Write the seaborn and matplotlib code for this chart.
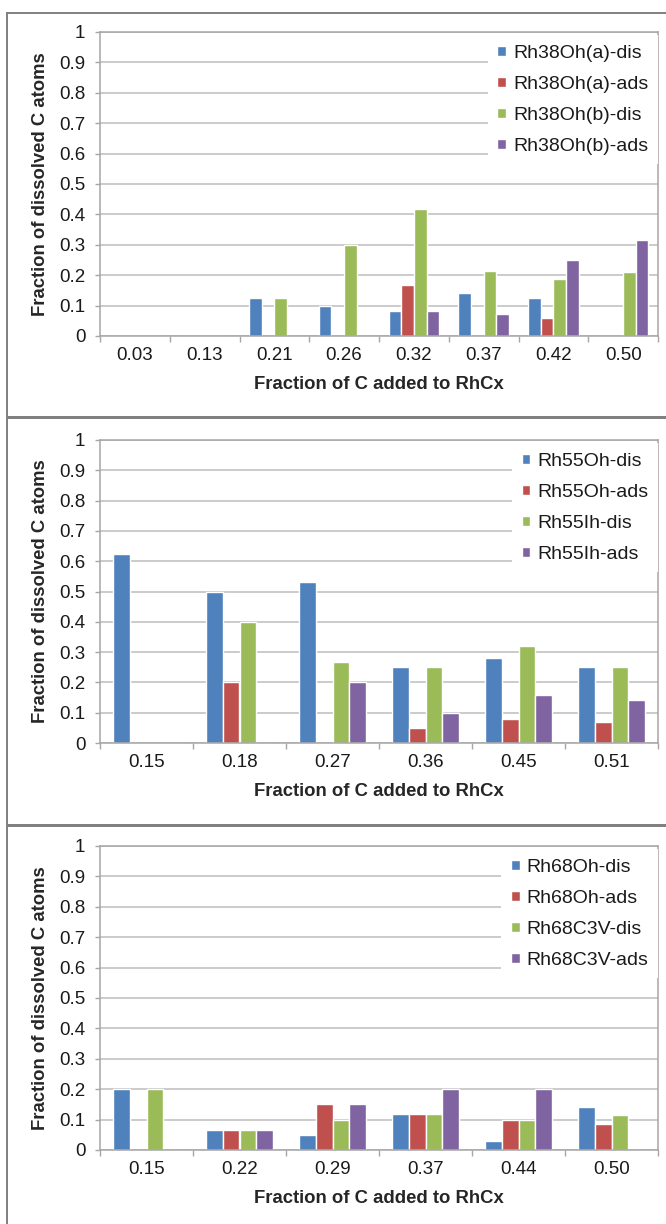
import pandas as pd
import seaborn as sns
import matplotlib.pyplot as plt
from matplotlib.patches import Rectangle

# Excel-like series colours
series_colors = ["#4F81BD", "#C0504D", "#9BBB59", "#8064A2"]
y_ticks = [0, 0.1, 0.2, 0.3, 0.4, 0.5, 0.6, 0.7, 0.8, 0.9, 1.0]
y_tick_labels = ["0", "0.1", "0.2", "0.3", "0.4", "0.5", "0.6", "0.7", "0.8", "0.9", "1"]
x_title = "Fraction of C added to RhCx"
y_title = "Fraction of dissolved C atoms"

# Panel 1: Rh38
rh38_x = ["0.03", "0.13", "0.21", "0.26", "0.32", "0.37", "0.42", "0.50"]
rh38_names = ["Rh38Oh(a)-dis", "Rh38Oh(a)-ads", "Rh38Oh(b)-dis", "Rh38Oh(b)-ads"]
rh38_a_dis = [0, 0, 0.125, 0.100, 0.083, 0.143, 0.125, 0]
rh38_a_ads = [0, 0, 0, 0, 0.167, 0, 0.060, 0]
rh38_b_dis = [0, 0, 0.125, 0.300, 0.417, 0.214, 0.188, 0.210]
rh38_b_ads = [0, 0, 0, 0, 0.083, 0.071, 0.250, 0.316]

# Panel 2: Rh55
rh55_x = ["0.15", "0.18", "0.27", "0.36", "0.45", "0.51"]
rh55_names = ["Rh55Oh-dis", "Rh55Oh-ads", "Rh55Ih-dis", "Rh55Ih-ads"]
rh55_oh_dis = [0.625, 0.500, 0.533, 0.250, 0.280, 0.250]
rh55_oh_ads = [0, 0.200, 0, 0.050, 0.080, 0.070]
rh55_ih_dis = [0, 0.400, 0.267, 0.250, 0.320, 0.250]
rh55_ih_ads = [0, 0, 0.200, 0.100, 0.160, 0.143]

# Panel 3: Rh68
rh68_x = ["0.15", "0.22", "0.29", "0.37", "0.44", "0.50"]
rh68_names = ["Rh68Oh-dis", "Rh68Oh-ads", "Rh68C3V-dis", "Rh68C3V-ads"]
rh68_oh_dis = [0.200, 0.067, 0.050, 0.118, 0.030, 0.143]
rh68_oh_ads = [0, 0.067, 0.150, 0.118, 0.100, 0.087]
rh68_c3v_dis = [0.200, 0.067, 0.100, 0.118, 0.100, 0.115]
rh68_c3v_ads = [0, 0.067, 0.150, 0.200, 0.200, 0]

W, H = 666, 1224

sns.set_theme(style="white")
plt.rcParams["font.family"] = ["Liberation Sans", "DejaVu Sans"]
plt.rcParams["text.color"] = "#1a1a1a"


def draw_panel(ax, cats, names, series):
    df = pd.DataFrame({"x": cats})
    for name, vals in zip(names, series):
        df[name] = vals
    long_df = df.melt(id_vars="x", var_name="series", value_name="frac")

    sns.barplot(data=long_df, x="x", y="frac", hue="series", order=cats,
                hue_order=names, palette=series_colors, width=4 / 5.5,
                saturation=1, errorbar=None, gap=0, ax=ax)

    n = len(cats)
    ax.set_xlim(-0.5, n - 0.5)
    ax.set_ylim(0, 1)
    ax.set_yticks(y_ticks)
    ax.set_yticklabels(y_tick_labels)
    ax.yaxis.grid(True, color="#BDBDBD", lw=1.1)
    ax.xaxis.grid(False)
    ax.set_axisbelow(True)
    for s in ax.spines.values():
        s.set_color("#A6A6A6")
        s.set_linewidth(1.1)

    ax.set_xticks(range(n))
    ax.set_xticks([i - 0.5 for i in range(n + 1)], minor=True)
    ax.tick_params(axis="x", which="major", length=0, pad=8, labelsize=13.5,
                   colors="#1a1a1a")
    ax.tick_params(axis="x", which="minor", length=4.5, width=1, color="#A6A6A6",
                   direction="out", bottom=True)
    ax.tick_params(axis="y", which="major", length=3.6, width=1, color="#A6A6A6",
                   pad=7, labelsize=13.5, left=True, labelcolor="#1a1a1a")

    ax.set_xlabel(x_title, fontsize=13.3, fontweight="bold")
    ax.set_ylabel(y_title, fontsize=13.3, fontweight="bold")
    ax.xaxis.set_label_coords(0.5, -0.16)
    ax.xaxis.label.set_va("center")
    ax.yaxis.set_label_coords(-0.106, 0.5)
    ax.yaxis.label.set_va("center")

    handles, labels = ax.get_legend_handles_labels()
    leg = ax.legend(handles, labels, loc="upper right", bbox_to_anchor=(1.0, 0.99),
                    fontsize=14, frameon=True, framealpha=1, edgecolor="white",
                    fancybox=False, handlelength=0.45, handleheight=0.45,
                    handletextpad=0.35, labelspacing=0.72, borderpad=0.5,
                    borderaxespad=0)
    leg.get_frame().set_linewidth(0)


fig = plt.figure(figsize=(W / 100, H / 100), dpi=100)

# axes boxes in pixels: (top, bottom)
boxes = [(32, 336), (440, 743), (846, 1150)]
left_px, right_px = 100, 658
panels = [
    (rh38_x, rh38_names, [rh38_a_dis, rh38_a_ads, rh38_b_dis, rh38_b_ads]),
    (rh55_x, rh55_names, [rh55_oh_dis, rh55_oh_ads, rh55_ih_dis, rh55_ih_ads]),
    (rh68_x, rh68_names, [rh68_oh_dis, rh68_oh_ads, rh68_c3v_dis, rh68_c3v_ads]),
]
for (top, bot), (cats, names, series) in zip(boxes, panels):
    ax = fig.add_axes([left_px / W, 1 - bot / H, (right_px - left_px) / W, (bot - top) / H])
    draw_panel(ax, cats, names, series)

# grey frames around each panel
frames = [(7, 13, 417), (7, 418, 825), (7, 826, 1240)]
for x0, y0, y1 in frames:
    fig.add_artist(Rectangle((x0 / W, 1 - y1 / H), (W + 10 - x0) / W, (y1 - y0) / H,
                             transform=fig.transFigure, fill=False,
                             edgecolor="#7F7F7F", lw=1.4))

fig.savefig("out.png", dpi=100)
